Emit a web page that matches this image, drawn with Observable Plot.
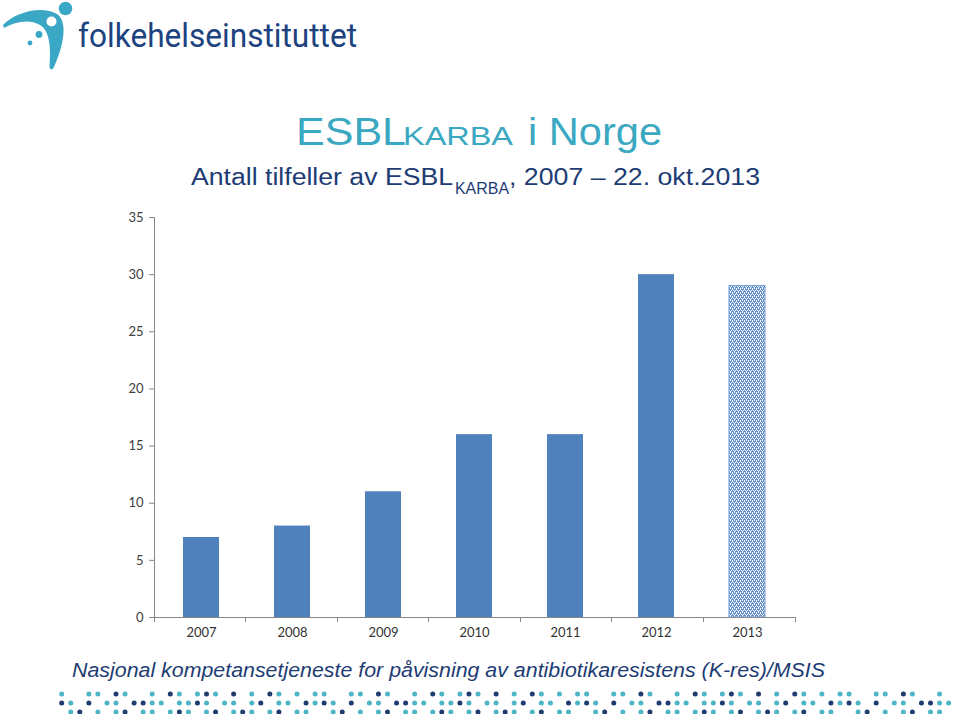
<!DOCTYPE html>
<html>
<head>
<meta charset="utf-8">
<script src="https://cdn.jsdelivr.net/npm/d3@7"></script>
<script src="https://cdn.jsdelivr.net/npm/@observablehq/plot@0.6"></script>
<style>
  html, body { margin: 0; padding: 0; background: #ffffff; }
  #page { position: relative; width: 960px; height: 714px; overflow: hidden; background: #fff; }
  #header, #chart, #footer { position: absolute; left: 0; }
  #header { top: 0; }
  #chart { top: 200px; }
  #footer { top: 650px; }
</style>
</head>
<body>
<div id="page">
  <svg id="header" width="960" height="200"></svg>
  <div id="chart"></div>
  <svg id="footer" width="960" height="64"></svg>
</div>
<script>
// ---- Data ----
const years = ["2007", "2008", "2009", "2010", "2011", "2012", "2013"];
const cases = [7, 8, 11, 16, 16, 30, 29];
const partialYear = [false, false, false, false, false, false, true]; // 2013 only up to 22. okt.
const yTicks = [0, 5, 10, 15, 20, 25, 30, 35];

const titleMain = "ESBL";
const titleSub = "KARBA";
const titleEnd = "i Norge";
const subtitleA = "Antall tilfeller av ESBL";
const subtitleSub = "KARBA";
const subtitleB = ", 2007 \u2013 22. okt.2013";
const sourceText = "Nasjonal kompetansetjeneste for påvisning av antibiotikaresistens (K-res)/MSIS";
const orgName = "folkehelseinstituttet";

// decorative dot rows of the footer band (t = teal, n = navy, . = empty)
const dotRows = [
  "t..tt.nt..t.nt.tnt.n.t.nt.t.t",
  "nt.n.tt.nntt.ttnt.tt.tn.tt.nt",
  ".tn.t.tn.tt.tnt.tn.tnt.tn.tt."
];

const data = years.map((y, i) => ({ year: y, cases: cases[i], partial: partialYear[i] }));

// ---- Header (logo + titles) ----
const header = d3.select("#header");
const teal = "#3ba8c2";
const navy = "#1d3c74";

const logo = header.append("g");
logo.append("path")
  .attr("d", "M3,25 C15,12 42,5 57,14 C68,21 64,45 54,67 Q51,72 49.5,67 C51,48 50,31 40,25 C30,19 16,21 4,28 Z")
  .attr("fill", "#3aa8c4");
logo.append("circle").attr("cx", 51.5).attr("cy", 21.5).attr("r", 5).attr("fill", "#fff");
logo.append("circle").attr("cx", 65.5).attr("cy", 8.5).attr("r", 6.8).attr("fill", "#3aa8c4");
logo.append("circle").attr("cx", 39).attr("cy", 34.5).attr("r", 3.4).attr("fill", "#3aa8c4");
logo.append("circle").attr("cx", 30).attr("cy", 43).attr("r", 2.4).attr("fill", "#3aa8c4");
logo.append("text")
  .attr("x", 78).attr("y", 47)
  .attr("font-family", "Roboto, 'DejaVu Sans', sans-serif")
  .attr("font-size", 33)
  .attr("fill", "#1c4280")
  .attr("textLength", 279).attr("lengthAdjust", "spacingAndGlyphs")
  .text(orgName);

const tfont = "'Liberation Sans', Arial, sans-serif";
header.append("text").attr("x", 296).attr("y", 145).attr("font-family", tfont)
  .attr("font-size", 38).attr("fill", teal)
  .attr("textLength", 110).attr("lengthAdjust", "spacingAndGlyphs").text(titleMain);
header.append("text").attr("x", 403).attr("y", 145).attr("font-family", tfont)
  .attr("font-size", 26).attr("fill", teal)
  .attr("textLength", 110).attr("lengthAdjust", "spacingAndGlyphs").text(titleSub);
header.append("text").attr("x", 528).attr("y", 145).attr("font-family", tfont)
  .attr("font-size", 38).attr("fill", teal)
  .attr("textLength", 134).attr("lengthAdjust", "spacingAndGlyphs").text(titleEnd);

header.append("text").attr("x", 191).attr("y", 185).attr("font-family", tfont)
  .attr("font-size", 23.5).attr("fill", navy)
  .attr("textLength", 262).attr("lengthAdjust", "spacingAndGlyphs").text(subtitleA);
header.append("text").attr("x", 455).attr("y", 194).attr("font-family", tfont)
  .attr("font-size", 16.5).attr("fill", navy)
  .attr("textLength", 54).attr("lengthAdjust", "spacingAndGlyphs").text(subtitleSub);
header.append("text").attr("x", 509).attr("y", 185).attr("font-family", tfont)
  .attr("font-size", 23.5).attr("fill", navy)
  .attr("textLength", 251).attr("lengthAdjust", "spacingAndGlyphs").text(subtitleB);

// ---- Chart ----
function axisFrame(index, scales, values, dimensions) {
  const { width, marginLeft, marginRight } = dimensions;
  const y0 = scales.y(0), yTop = scales.y(yTicks[yTicks.length - 1]);
  const step = (width - marginLeft - marginRight) / years.length;
  const g = d3.create("svg:g").attr("stroke", "#868686").attr("fill", "none")
    .attr("shape-rendering", "crispEdges");
  g.append("line").attr("x1", marginLeft).attr("x2", marginLeft).attr("y1", yTop).attr("y2", y0);
  for (let i = 0; i <= years.length; i++) {
    const x = marginLeft + i * step;
    g.append("line").attr("x1", x).attr("x2", x).attr("y1", y0).attr("y2", y0 + 5);
  }
  return g.node();
}

const chart = Plot.plot({
  width: 960,
  height: 460,
  marginLeft: 154,
  marginRight: 165,
  marginTop: 17,
  marginBottom: 43,
  style: { fontFamily: "Lato, 'Open Sans', sans-serif", fontSize: "13px", color: "#404040", background: "transparent" },
  x: { domain: years, paddingInner: 0.6, paddingOuter: 0.3, label: null },
  y: { domain: [0, 35], label: null },
  marks: [
    Plot.barY(data.filter(d => !d.partial), { x: "year", y: "cases", fill: "#4f81bd" }),
    Plot.barY(data.filter(d => d.partial), { x: "year", y: "cases", fill: "url(#hatch2013)", stroke: "#6f9ad0", strokeWidth: 1 }),
    Plot.ruleY([0], { stroke: "#868686" }),
    Plot.axisY({ ticks: yTicks, tickSize: 5, tickPadding: 6, stroke: "#868686", fill: "#404040", fontSize: 13, label: null }),
    Plot.axisX({ tickSize: 0, tickPadding: 10, fill: "#333333", fontSize: 13, label: null }),
    axisFrame
  ]
});

const defs = d3.select(chart).insert("defs", ":first-child");
const pat = defs.append("pattern").attr("id", "hatch2013")
  .attr("patternUnits", "userSpaceOnUse").attr("width", 4).attr("height", 4);
pat.append("rect").attr("width", 4).attr("height", 4).attr("fill", "#6592cc");
[[0, 0], [2, 0], [1, 2], [3, 2], [0, 1], [2, 3]].forEach(([x, y]) =>
  pat.append("rect").attr("x", x).attr("y", y).attr("width", 1).attr("height", 1).attr("fill", "#ffffff"));

document.getElementById("chart").appendChild(chart);

// ---- Footer ----
const footer = d3.select("#footer");
footer.append("text").attr("x", 72).attr("y", 27)
  .attr("font-family", tfont).attr("font-style", "italic")
  .attr("font-size", 20).attr("fill", navy)
  .attr("textLength", 753).attr("lengthAdjust", "spacingAndGlyphs")
  .text(sourceText);

const dotColors = { t: "#4db5c6", n: "#1f3b70" };
const nCols = 99;
dotRows.forEach((row, r) => {
  for (let c = 0; c < nCols; c++) {
    const ch = row[c % row.length];
    if (ch === ".") continue;
    footer.append("circle")
      .attr("cx", 61.7 + c * 9.05)
      .attr("cy", 44 + r * 9)
      .attr("r", 2.5)
      .attr("fill", dotColors[ch]);
  }
});
</script>
</body>
</html>
